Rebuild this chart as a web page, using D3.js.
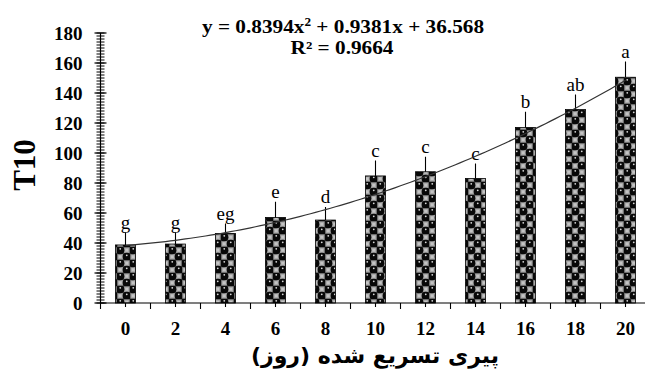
<!DOCTYPE html>
<html>
<head>
<meta charset="utf-8">
<script src="https://cdn.jsdelivr.net/npm/d3@7/dist/d3.min.js"></script>
<style>
  html, body { margin: 0; padding: 0; background: #fff; }
  svg { display: block; }
</style>
</head>
<body>
<svg id="chart" width="645" height="372"></svg>
<script>
// Accelerated ageing (days) vs T10
const days = [0, 2, 4, 6, 8, 10, 12, 14, 16, 18, 20];
const means = [38.7, 39.3, 46.4, 57, 55.3, 84.7, 87.5, 83, 117, 129, 150.5];
const errors = [8.3, 7.7, 6.6, 10.5, 8.7, 10.3, 10, 10, 10.5, 10, 10.5];
const letters = ["g", "g", "eg", "e", "d", "c", "c", "c", "b", "ab", "a"];
const yTicks = [0, 20, 40, 60, 80, 100, 120, 140, 160, 180];
// Polynomial trendline coefficients (x = treatment rank 1..11)
const trendCoef = [0.8394, 0.9381, 36.568];
const rSquared = "0.9664";

const svg = d3.select("#chart");
const serif = "'Liberation Serif', 'Times New Roman', serif";

const x = d3.scaleBand().domain(days).range([100.5, 650.5]).paddingInner(0.6).paddingOuter(0.3);
const y = d3.scaleLinear().domain([0, 180]).range([303, 33]);

// Checkered dot fill for the bars
const defs = svg.append("defs");
const pat = defs.append("pattern")
  .attr("id", "dots").attr("patternUnits", "userSpaceOnUse")
  .attr("width", 13).attr("height", 13);
pat.append("rect").attr("width", 13).attr("height", 13).attr("fill", "#4a4a4a");
[[6.5, 0], [0, 6.5]].forEach(([px, py]) => {
  pat.append("rect").attr("x", px + 0.6).attr("y", py + 0.6).attr("width", 5.3).attr("height", 5.3).attr("fill", "#a8a8a8");
  pat.append("rect").attr("x", px + 1.9).attr("y", py + 1.9).attr("width", 2.7).attr("height", 2.7).attr("fill", "#c4c4c4");
});
[[3.25, 3.25], [9.75, 9.75]].forEach(([cx, cy]) => {
  pat.append("circle").attr("cx", cx).attr("cy", cy).attr("r", 4.1).attr("fill", "#080808");
  pat.append("circle").attr("cx", cx).attr("cy", cy - 1.4).attr("r", 0.9).attr("fill", "#d8d8d8");
});

// Bars
svg.append("g").selectAll("rect").data(days).join("rect")
  .attr("x", d => x(d))
  .attr("y", (d, i) => y(means[i]))
  .attr("width", x.bandwidth())
  .attr("height", (d, i) => y(0) - y(means[i]))
  .attr("fill", "url(#dots)")
  .attr("stroke", "#000").attr("stroke-width", 0.8);

// Error bars (upper only)
svg.append("g").selectAll("line").data(days).join("line")
  .attr("x1", d => x(d) + x.bandwidth() / 2)
  .attr("x2", d => x(d) + x.bandwidth() / 2)
  .attr("y1", (d, i) => y(means[i]))
  .attr("y2", (d, i) => y(means[i] + errors[i]))
  .attr("stroke", "#000").attr("stroke-width", 1.1);

// Significance letters
svg.append("g").selectAll("text").data(days).join("text")
  .attr("x", d => x(d) + x.bandwidth() / 2)
  .attr("y", (d, i) => y(means[i] + errors[i]) - 4)
  .attr("text-anchor", "middle")
  .attr("font-family", serif).attr("font-size", 19)
  .text((d, i) => letters[i]);

// Trendline from the fitted polynomial
const trend = t => trendCoef[0] * t * t + trendCoef[1] * t + trendCoef[2];
const xLin = d3.scaleLinear().domain([1, days.length])
  .range([x(days[0]) + x.bandwidth() / 2, x(days[days.length - 1]) + x.bandwidth() / 2]);
const curvePts = d3.range(1, days.length + 0.001, 0.1).map(t => [xLin(t), y(trend(t))]);
svg.append("path")
  .attr("d", d3.line()(curvePts))
  .attr("fill", "none").attr("stroke", "#333").attr("stroke-width", 1.2);

// Y axis with crossing major and minor ticks
const yAxisG = svg.append("g").attr("transform", "translate(100.5,0)");
yAxisG.append("line").attr("y1", y(0)).attr("y2", y(180)).attr("stroke", "#000").attr("stroke-width", 1.2);
yAxisG.selectAll(".minor").data(d3.range(0, 181, 2)).join("line")
  .attr("x1", -4).attr("x2", 4)
  .attr("y1", d => y(d)).attr("y2", d => y(d))
  .attr("stroke", "#000").attr("stroke-width", 1);
yAxisG.selectAll(".major").data(yTicks).join("line")
  .attr("x1", -6).attr("x2", 6)
  .attr("y1", d => y(d)).attr("y2", d => y(d))
  .attr("stroke", "#000").attr("stroke-width", 1.2);
yAxisG.selectAll("text").data(yTicks).join("text")
  .attr("x", -18).attr("y", d => y(d) + 6.5)
  .attr("text-anchor", "end")
  .attr("font-family", serif).attr("font-weight", "bold").attr("font-size", 19)
  .text(d => d);

// X axis
const xAxisG = svg.append("g");
xAxisG.append("line").attr("x1", 100.5).attr("x2", 645).attr("y1", y(0)).attr("y2", y(0))
  .attr("stroke", "#000").attr("stroke-width", 1.2);
const bounds = days.map(d => x(d) - (x.step() - x.bandwidth()) / 2);
xAxisG.selectAll(".bnd").data(bounds).join("line")
  .attr("x1", d => d).attr("x2", d => d)
  .attr("y1", y(0)).attr("y2", y(0) + 6)
  .attr("stroke", "#000").attr("stroke-width", 1.1);
xAxisG.selectAll(".ctr").data(days).join("line")
  .attr("x1", d => x(d) + x.bandwidth() / 2).attr("x2", d => x(d) + x.bandwidth() / 2)
  .attr("y1", y(0)).attr("y2", y(0) + 4)
  .attr("stroke", "#000").attr("stroke-width", 1.1);
xAxisG.selectAll("text").data(days).join("text")
  .attr("x", d => x(d) + x.bandwidth() / 2)
  .attr("y", 335)
  .attr("text-anchor", "middle")
  .attr("font-family", serif).attr("font-weight", "bold").attr("font-size", 19)
  .text(d => d);

// Axis titles
svg.append("text")
  .attr("transform", "translate(35,165) rotate(-90)")
  .attr("text-anchor", "middle")
  .attr("font-family", serif).attr("font-weight", "bold").attr("font-size", 31)
  .text("T10");

svg.append("text")
  .attr("x", 375).attr("y", 363)
  .attr("text-anchor", "middle")
  .attr("font-family", "'DejaVu Sans', sans-serif").attr("font-weight", "bold").attr("font-size", 22)
  .text("پیری تسریع شده (روز)");

// Trendline equation (slightly widened serif, as typeset)
const eq = svg.append("text")
  .attr("transform", "translate(343,33) scale(1.15,1)")
  .attr("text-anchor", "middle")
  .attr("font-family", serif).attr("font-weight", "bold").attr("font-size", 18.5);
eq.append("tspan").text(`y = ${trendCoef[0]}x`);
eq.append("tspan").attr("dy", -7).attr("font-size", 11.5).text("2");
eq.append("tspan").attr("dy", 7).text(` + ${trendCoef[1]}x + ${trendCoef[2]}`);

svg.append("text")
  .attr("transform", "translate(342,54) scale(1.15,1)")
  .attr("text-anchor", "middle")
  .attr("font-family", serif).attr("font-weight", "bold").attr("font-size", 18.5)
  .text(`R² = ${rSquared}`);
</script>
</body>
</html>
